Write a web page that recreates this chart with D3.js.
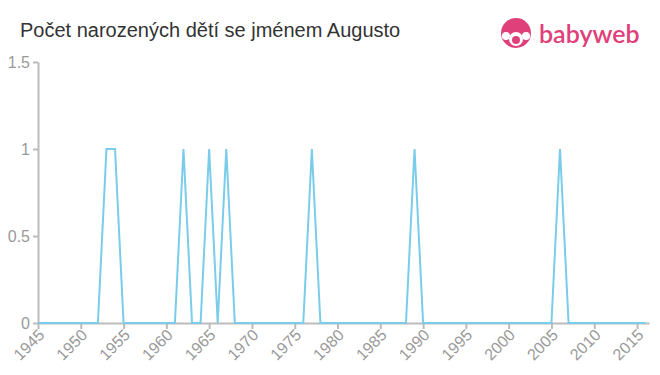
<!DOCTYPE html>
<html><head><meta charset="utf-8">
<script src="https://cdn.jsdelivr.net/npm/d3@7"></script>
<style>body{margin:0;background:#fff}svg{display:block;font-family:"Liberation Sans",Arial,sans-serif}</style>
</head><body><svg id="c" width="660" height="375"></svg>
<script>
const title = "Počet narozených dětí se jménem Augusto";
const years = d3.range(1945, 2017);
const peakYears = [1953, 1954, 1962, 1965, 1967, 1977, 1989, 2006];
const counts = years.map(y => peakYears.includes(y) ? 1 : 0);
const yTicks = [0, 0.5, 1, 1.5];
const xTicks = d3.range(1945, 2016, 5);

const svg = d3.select("#c");
const x = d3.scaleLinear().domain([1945, 2016.4]).range([38, 649]);
const y = d3.scaleLinear().domain([0, 1.5]).range([323, 62]);

svg.append("text").attr("x", 20).attr("y", 37).attr("font-size", 20).attr("fill", "#333").text(title);

// y axis
const ya = svg.append("g").attr("transform", "translate(38,0)")
  .call(d3.axisLeft(y).tickValues(yTicks).tickFormat(d => d).tickSize(5).tickSizeOuter(0));
ya.select(".domain").attr("stroke", "#bbb").attr("stroke-width", 2);
ya.selectAll(".tick line").attr("stroke", "#bbb").attr("stroke-width", 2);
ya.selectAll(".tick text").attr("fill", "#999").attr("font-size", 16).attr("x", -8).attr("dy", "0.35em")
  .style("font-family", "Liberation Sans, Arial, sans-serif");

// x axis
const xa = svg.append("g").attr("transform", "translate(0,323)")
  .call(d3.axisBottom(x).tickValues(xTicks).tickFormat(d3.format("d")).tickSize(6).tickSizeOuter(0));
xa.select(".domain").attr("stroke", "#bbb").attr("stroke-width", 2);
xa.selectAll(".tick line").attr("stroke", "#bbb").attr("stroke-width", 2);
xa.selectAll(".tick text").attr("fill", "#999").attr("font-size", 16)
  .style("font-family", "Liberation Sans, Arial, sans-serif")
  .attr("text-anchor", "end").attr("dy", null).attr("y", 0)
  .attr("transform", "translate(7,13) rotate(-45)");

// line
svg.append("path").datum(years.map((yr, i) => [yr, counts[i]]))
  .attr("fill", "none").attr("stroke", "#7accea").attr("stroke-width", 2)
  .attr("d", d3.line().x(d => x(d[0])).y(d => y(d[1])));

// logo
const lg = svg.append("g").attr("transform", "translate(516,33)");
lg.append("circle").attr("r", 15).attr("fill", "#e0407a");
lg.append("circle").attr("cy", 6).attr("r", 7).attr("fill", "#fff");
lg.append("circle").attr("cx", -10).attr("cy", 3).attr("r", 4).attr("fill", "#fff");
lg.append("circle").attr("cx", 10).attr("cy", 3).attr("r", 4).attr("fill", "#fff");
lg.append("circle").attr("cy", 7).attr("r", 4).attr("fill", "#e0407a");
svg.append("text").attr("x", 539).attr("y", 43).attr("font-size", 25).attr("fill", "#e0407a")
  .style("font-family", "Lato, 'Open Sans', sans-serif").attr("font-weight", 600).text("babyweb");
</script></body></html>
